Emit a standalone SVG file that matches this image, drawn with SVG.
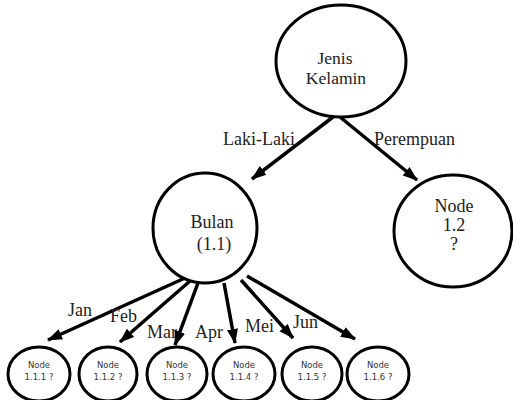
<svg xmlns="http://www.w3.org/2000/svg" width="513" height="400" viewBox="0 0 513 400">
<style>
.n{fill:#fff;stroke:#000;stroke-width:3}
.e{stroke:#000;stroke-width:3.5;fill:none}
.t{font-family:'Liberation Serif','Times New Roman',serif;font-size:18px;fill:#222;text-anchor:middle}
.t.r{font-size:17.5px}
.l{font-family:'Liberation Serif','Times New Roman',serif;font-size:18px;fill:#222}
.s{font-family:'DejaVu Sans','Liberation Sans',sans-serif;font-size:8.5px;fill:#333;text-anchor:middle}
</style>
<defs>
<marker id="ah" markerUnits="userSpaceOnUse" markerWidth="16" markerHeight="16" viewBox="0 0 16 16" refX="14" refY="8" orient="auto">
<path d="M0,2.5 L15,8 L0,13.5 Z" fill="#000"/>
</marker>
</defs>
<rect width="513" height="400" fill="#fff"/>
<g id="edges">
<line class="e" x1="333" y1="117" x2="252" y2="179" marker-end="url(#ah)"/>
<line class="e" x1="340" y1="117" x2="417" y2="180" marker-end="url(#ah)"/>
<line class="e" x1="185" y1="278" x2="48" y2="340" marker-end="url(#ah)"/>
<line class="e" x1="190" y1="281" x2="120" y2="342" marker-end="url(#ah)"/>
<line class="e" x1="198" y1="283" x2="175" y2="345" marker-end="url(#ah)"/>
<line class="e" x1="224" y1="283" x2="235" y2="343" marker-end="url(#ah)"/>
<line class="e" x1="241" y1="280" x2="293" y2="338" marker-end="url(#ah)"/>
<line class="e" x1="247" y1="276" x2="355" y2="339" marker-end="url(#ah)"/>
<text class="l" x="223" y="145">Laki-Laki</text>
<text class="l" x="374" y="145">Perempuan</text>
<text class="l" x="68" y="316">Jan</text>
<text class="l" x="110" y="322">Feb</text>
<text class="l" x="147" y="338">Mar</text>
<text class="l" x="195" y="338">Apr</text>
<text class="l" x="245" y="332">Mei</text>
<text class="l" x="293" y="328">Jun</text>
</g>
<g id="root">
<ellipse class="n" cx="341" cy="61" rx="65" ry="56"/>
<text class="t r" x="335" y="64">Jenis</text>
<text class="t r" x="336" y="84">Kelamin</text>
</g>
<g id="bulan">
<ellipse class="n" cx="205" cy="228" rx="52" ry="55"/>
<text class="t" x="212" y="228">Bulan</text>
<text class="t" x="214" y="250">(1.1)</text>
</g>
<g id="node12">
<ellipse class="n" cx="453" cy="231" rx="59" ry="56"/>
<text class="t" x="454" y="212">Node</text>
<text class="t" x="454" y="231">1.2</text>
<text class="t" x="454" y="250">?</text>
</g>
<g id="n111">
<ellipse class="n" cx="39" cy="374" rx="31" ry="27"/>
<text class="s" x="39" y="368">Node</text>
<text class="s" x="39" y="380">1.1.1 ?</text>
</g>
<g id="n112">
<ellipse class="n" cx="108" cy="374" rx="29" ry="27"/>
<text class="s" x="108" y="368">Node</text>
<text class="s" x="108" y="380">1.1.2 ?</text>
</g>
<g id="n113">
<ellipse class="n" cx="177" cy="374" rx="30" ry="27"/>
<text class="s" x="177" y="368">Node</text>
<text class="s" x="177" y="380">1.1.3 ?</text>
</g>
<g id="n114">
<ellipse class="n" cx="244" cy="374" rx="31" ry="27"/>
<text class="s" x="244" y="368">Node</text>
<text class="s" x="244" y="380">1.1.4 ?</text>
</g>
<g id="n115">
<ellipse class="n" cx="312" cy="374" rx="30" ry="27"/>
<text class="s" x="312" y="368">Node</text>
<text class="s" x="312" y="380">1.1.5 ?</text>
</g>
<g id="n116">
<ellipse class="n" cx="378" cy="374" rx="31" ry="27"/>
<text class="s" x="378" y="368">Node</text>
<text class="s" x="378" y="380">1.1.6 ?</text>
</g>
</svg>
